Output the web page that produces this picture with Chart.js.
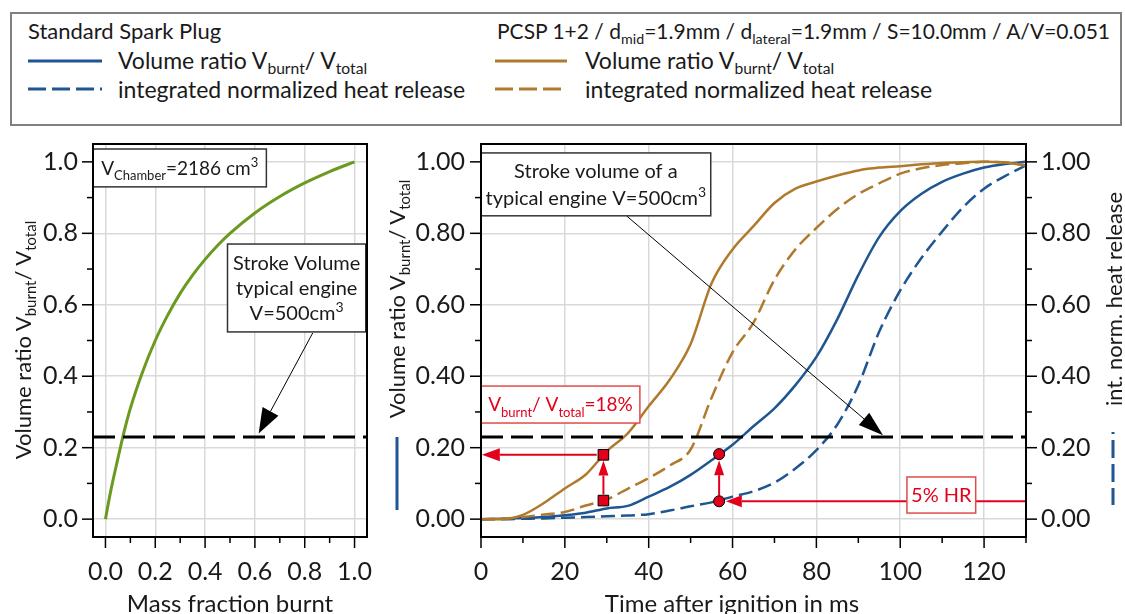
<!DOCTYPE html>
<html>
<head>
<meta charset="utf-8">
<script src="https://cdn.jsdelivr.net/npm/chart.js@4.4.1/dist/chart.umd.min.js"></script>
<style>
  body { margin:0; width:1125px; height:614px; overflow:hidden; background:#fff; font-family:Lato, sans-serif; color:#1a1a1a; position:relative; }
  .abs { position:absolute; white-space:nowrap; }
  sub { font-size:68%; vertical-align:-0.32em; line-height:0; }
  #legend { position:absolute; left:10px; top:12px; width:1112px; height:114px; box-sizing:border-box; border:2px solid #808080; }
  .lg { font-size:23px; line-height:26px; }
  .ytitle { font-size:22px; line-height:26px; transform:translate(-50%,-50%) rotate(-90deg); }
  .xtitle { font-size:24px; line-height:26px; transform:translateX(-50%); }
</style>
</head>
<body>
<div id="legend"></div>
<div class="abs lg" style="left:28px; top:18px; font-size:22px">Standard Spark Plug</div>
<div class="abs lg" style="left:118px; top:47px">Volume ratio V<sub>burnt</sub>/ V<sub>total</sub></div>
<div class="abs lg" style="left:118px; top:76px">integrated normalized heat release</div>
<div class="abs lg" style="left:497px; top:18px; font-size:21px">PCSP 1+2 / d<sub>mid</sub>=1.9mm / d<sub>lateral</sub>=1.9mm / S=10.0mm / A/V=0.051</div>
<div class="abs lg" style="left:585px; top:47px">Volume ratio V<sub>burnt</sub>/ V<sub>total</sub></div>
<div class="abs lg" style="left:585px; top:76px">integrated normalized heat release</div>

<canvas id="left" class="abs" width="375" height="484" style="left:0; top:130px"></canvas>
<canvas id="right" class="abs" width="750" height="484" style="left:375px; top:130px"></canvas>

<svg class="abs" style="left:0; top:0; pointer-events:none" width="1125" height="614">
  <line x1="28" y1="61" x2="102" y2="61" stroke="#1f5591" stroke-width="3"/>
  <line x1="28" y1="89" x2="102" y2="89" stroke="#1f5591" stroke-width="3" stroke-dasharray="18 6 18 6 18 6 2 6"/>
  <line x1="495" y1="61" x2="567" y2="61" stroke="#b07a2c" stroke-width="3"/>
  <line x1="495" y1="89" x2="567" y2="89" stroke="#b07a2c" stroke-width="3" stroke-dasharray="18 6 18 6 18 6 2 6"/>
  <line x1="397" y1="437" x2="397" y2="510" stroke="#1f5591" stroke-width="3"/>
  <line x1="1113" y1="432" x2="1113" y2="505" stroke="#1f5591" stroke-width="3" stroke-dasharray="2 6 18 6 18 6 17"/>
</svg>

<div class="abs ytitle" style="left:23px; top:340px">Volume ratio V<sub>burnt</sub>/ V<sub>total</sub></div>
<div class="abs ytitle" style="left:397px; top:299px">Volume ratio V<sub>burnt</sub>/ V<sub>total</sub></div>
<div class="abs ytitle" style="left:1114px; top:299px">int. norm. heat release</div>
<div class="abs xtitle" style="left:230px; top:590px">Mass fraction burnt</div>
<div class="abs xtitle" style="left:732px; top:590px">Time after ignition in ms</div>

<script>
// left chart: volume ratio vs mass fraction burnt
const massFraction = [0, 0.02, 0.05, 0.075, 0.1, 0.15, 0.2, 0.25, 0.3, 0.35, 0.4, 0.45, 0.5, 0.6, 0.7, 0.8, 0.9, 1.0];
const volRatioChamber = [0, 0.075, 0.17, 0.245, 0.31, 0.414, 0.5, 0.571, 0.632, 0.683, 0.727, 0.766, 0.8, 0.857, 0.903, 0.941, 0.973, 1.0];
const strokeRatio = 0.23;

// right chart: time after ignition
const timeMs = [0, 5, 10, 15, 20, 25, 30, 35, 40, 45, 50, 55, 60, 65, 70, 75, 80, 85, 90, 95, 100, 105, 110, 115, 120, 125, 130];
const stdVol  = [0, 0.001, 0.003, 0.006, 0.011, 0.018, 0.03, 0.037, 0.063, 0.09, 0.124, 0.165, 0.208, 0.26, 0.31, 0.375, 0.454, 0.56, 0.683, 0.79, 0.862, 0.91, 0.944, 0.967, 0.984, 0.994, 1.0];
const stdHr   = [0, 0, 0.001, 0.002, 0.004, 0.006, 0.008, 0.01, 0.014, 0.024, 0.036, 0.047, 0.063, 0.078, 0.102, 0.142, 0.193, 0.265, 0.375, 0.525, 0.64, 0.73, 0.805, 0.873, 0.925, 0.96, 0.99];
const pcspVol = [0, 0, 0.012, 0.045, 0.086, 0.125, 0.19, 0.24, 0.316, 0.39, 0.49, 0.66, 0.755, 0.82, 0.885, 0.925, 0.945, 0.962, 0.976, 0.984, 0.988, 0.993, 0.997, 0.999, 1.0, 0.998, 0.99];
const pcspHr  = [0, 0.002, 0.006, 0.013, 0.02, 0.038, 0.055, 0.085, 0.115, 0.15, 0.195, 0.34, 0.467, 0.55, 0.67, 0.755, 0.815, 0.868, 0.91, 0.94, 0.967, 0.982, 0.991, 0.996, 1.0, 0.999, 0.99];

// marked points (time, values)
const pcspMarkT = 29.2;
const pcspMarkY = [0.18, 0.052];
const stdMarkT = 56.8;
const stdMarkY = [0.182, 0.05];

// ticks
const ratioTicks = [0, 0.1, 0.2, 0.3, 0.4, 0.5, 0.6, 0.7, 0.8, 0.9, 1.0];
const ratioLabels1 = ['0.0', '', '0.2', '', '0.4', '', '0.6', '', '0.8', '', '1.0'];
const ratioLabels2 = ['0.00', '', '0.20', '', '0.40', '', '0.60', '', '0.80', '', '1.00'];
const timeTicks = [0, 10, 20, 30, 40, 50, 60, 70, 80, 90, 100, 110, 120, 130];
const timeLabels = ['0', '', '20', '', '40', '', '60', '', '80', '', '100', '', '120', ''];

const BLUE = '#1f5591', ORANGE = '#b07a2c', GREEN = '#6a9a1f', RED = '#e2001a';

Chart.defaults.font.family = 'Lato';
Chart.defaults.font.size = 25;
Chart.defaults.color = '#1a1a1a';

function pts(xs, ys) { return xs.map((x, i) => ({ x, y: ys[i] })); }

// fixed size axis, no automatic label padding
function fixSize(prop, v) {
  return s => {
    s[prop] = v;
    s.paddingTop = s.paddingBottom = s.paddingLeft = s.paddingRight = 0;
  };
}

function axis(min, max, values, labels, pad, extra) {
  return Object.assign({
    type: 'linear', min, max,
    afterBuildTicks: s => { s.ticks = values.map(v => ({ value: v })); },
    ticks: { autoSkip: false, maxRotation: 0, padding: pad, font: { size: 25 }, callback: (v, i) => labels[i] },
    grid: { drawTicks: false, lineWidth: 1.5, color: c => labels[c.index] ? '#d9d9d9' : 'rgba(0,0,0,0)' },
    border: { display: false }
  }, extra);
}

function drawRich(ctx, parts, x, y, size) {
  const small = Math.round(size * 0.68);
  ctx.textAlign = 'left';
  ctx.textBaseline = 'alphabetic';
  let cx = x;
  parts.forEach(([t, k]) => {
    ctx.font = (k ? small : size) + 'px Lato';
    const dy = k === 'sub' ? size * 0.3 : k === 'sup' ? -size * 0.4 : 0;
    ctx.fillText(t, cx, y + dy);
    cx += ctx.measureText(t).width;
  });
  return cx - x;
}

function richWidth(ctx, parts, size) {
  const small = Math.round(size * 0.68);
  return parts.reduce((w, [t, k]) => {
    ctx.font = (k ? small : size) + 'px Lato';
    return w + ctx.measureText(t).width;
  }, 0);
}

function arrow(ctx, x1, y1, x2, y2, o) {
  const a = Math.atan2(y2 - y1, x2 - x1);
  const bx = x2 - o.head * Math.cos(a), by = y2 - o.head * Math.sin(a);
  ctx.strokeStyle = o.color; ctx.lineWidth = o.width;
  ctx.beginPath(); ctx.moveTo(x1, y1); ctx.lineTo(bx, by); ctx.stroke();
  ctx.fillStyle = o.color;
  ctx.beginPath();
  ctx.moveTo(x2, y2);
  ctx.lineTo(bx + o.half * Math.sin(a), by - o.half * Math.cos(a));
  ctx.lineTo(bx - o.half * Math.sin(a), by + o.half * Math.cos(a));
  ctx.closePath(); ctx.fill();
}

// tick marks (major long, minor short) and full plot frame
const frame = {
  id: 'frame',
  afterDraw(chart) {
    const ctx = chart.ctx, a = chart.chartArea;
    ctx.save();
    ctx.strokeStyle = '#000'; ctx.lineWidth = 1.5;
    Object.values(chart.scales).forEach(s => {
      s.ticks.forEach(t => {
        const len = t.label ? 11 : 6;
        const p = s.getPixelForValue(t.value);
        ctx.beginPath();
        if (s.axis === 'x') { ctx.moveTo(p, a.bottom); ctx.lineTo(p, a.bottom + len); }
        else if (s.position === 'left') { ctx.moveTo(a.left, p); ctx.lineTo(a.left - len, p); }
        else { ctx.moveTo(a.right, p); ctx.lineTo(a.right + len, p); }
        ctx.stroke();
      });
    });
    ctx.lineWidth = 2;
    ctx.strokeRect(a.left, a.top, a.right - a.left, a.bottom - a.top);
    ctx.restore();
  }
};

function notes(boxes, arrowsBelow, arrowsAbove) {
  const conv = (chart, x, y) => [chart.scales.x.getPixelForValue(x), chart.scales.y.getPixelForValue(y)];
  const drawArrows = (chart, list) => list.forEach(ar => {
    const [x1, y1] = conv(chart, ar.from[0], ar.from[1]);
    const [x2, y2] = conv(chart, ar.to[0], ar.to[1]);
    arrow(chart.ctx, x1, y1, x2, y2, ar);
  });
  return {
    id: 'notes',
    beforeDatasetsDraw(chart) {
      chart.ctx.save(); drawArrows(chart, arrowsBelow); chart.ctx.restore();
    },
    afterDatasetsDraw(chart) {
      const ctx = chart.ctx;
      ctx.save();
      drawArrows(chart, arrowsAbove);
      boxes.forEach(b => {
        const [l, t] = conv(chart, b.x0, b.y0);
        const [r, bt] = conv(chart, b.x1, b.y1);
        ctx.fillStyle = '#fff';
        ctx.fillRect(l, t, r - l, bt - t);
        ctx.strokeStyle = b.border; ctx.lineWidth = 1.5;
        ctx.strokeRect(l, t, r - l, bt - t);
        ctx.fillStyle = b.color;
        const cy = (t + bt) / 2, cx = (l + r) / 2, n = b.lines.length;
        b.lines.forEach((parts, i) => {
          const x = cx - richWidth(ctx, parts, b.size) / 2;
          drawRich(ctx, parts, x, cy + (i - (n - 1) / 2) * b.lh + b.size * 0.36, b.size);
        });
      });
      ctx.restore();
    }
  };
}

const lineOpts = { showLine: true, pointRadius: 0, cubicInterpolationMode: 'monotone' };

// ---------- left chart ----------
new Chart(document.getElementById('left'), {
  type: 'scatter',
  data: {
    datasets: [
      Object.assign({ data: [{ x: -0.05, y: strokeRatio }, { x: 1.05, y: strokeRatio }], borderColor: '#000', borderWidth: 3, borderDash: [22, 8], order: 1 }, lineOpts),
      Object.assign({ data: pts(massFraction, volRatioChamber), borderColor: GREEN, borderWidth: 3, order: 2 }, lineOpts)
    ]
  },
  options: {
    responsive: false, animation: false, devicePixelRatio: 1,
    layout: { padding: { left: 0, top: 14, right: 8, bottom: 0 } },
    plugins: { legend: { display: false }, tooltip: { enabled: false } },
    scales: {
      x: axis(-0.05, 1.05, ratioTicks, ratioLabels1, 20, { afterFit: fixSize('height', 77) }),
      y: axis(-0.05, 1.05, ratioTicks, ratioLabels1, 15, { afterFit: fixSize('width', 93) })
    }
  },
  plugins: [frame, notes([
    { x0: -0.05, x1: 0.646, y0: 1.036, y1: 0.93, border: '#333', color: '#1a1a1a', size: 19, lh: 25,
      lines: [[['V', ''], ['Chamber', 'sub'], ['=2186 cm', ''], ['3', 'sup']]] },
    { x0: 0.49, x1: 1.045, y0: 0.77, y1: 0.524, border: '#333', color: '#1a1a1a', size: 20, lh: 25,
      lines: [[['Stroke Volume', '']], [['typical engine', '']], [['V=500cm', ''], ['3', 'sup']]] }
  ], [], [
    { from: [0.832, 0.521], to: [0.615, 0.24], color: '#000', width: 1, head: 25, half: 9 }
  ])]
});

// ---------- right chart ----------
new Chart(document.getElementById('right'), {
  type: 'scatter',
  data: {
    datasets: [
      { data: [{ x: pcspMarkT, y: pcspMarkY[0] }, { x: pcspMarkT, y: pcspMarkY[1] }], pointStyle: 'rect', pointRadius: 7.5,
        backgroundColor: RED, borderColor: '#000', borderWidth: 1, order: 0 },
      { data: [{ x: stdMarkT, y: stdMarkY[0] }, { x: stdMarkT, y: stdMarkY[1] }], pointStyle: 'circle', pointRadius: 5.5,
        backgroundColor: RED, borderColor: '#000', borderWidth: 1, order: 0 },
      Object.assign({ data: [{ x: 0, y: strokeRatio }, { x: 130, y: strokeRatio }], borderColor: '#000', borderWidth: 3, borderDash: [22, 8], order: 1 }, lineOpts),
      Object.assign({ data: pts(timeMs, pcspVol), borderColor: ORANGE, borderWidth: 2.5, order: 2 }, lineOpts),
      Object.assign({ data: pts(timeMs, pcspHr), borderColor: ORANGE, borderWidth: 2.5, borderDash: [14, 6], order: 2 }, lineOpts),
      Object.assign({ data: pts(timeMs, stdVol), borderColor: BLUE, borderWidth: 2.5, order: 2 }, lineOpts),
      Object.assign({ data: pts(timeMs, stdHr), borderColor: BLUE, borderWidth: 2.5, borderDash: [14, 6], order: 2 }, lineOpts)
    ]
  },
  options: {
    responsive: false, animation: false, devicePixelRatio: 1,
    layout: { padding: { left: 0, top: 14, right: 0, bottom: 0 } },
    plugins: { legend: { display: false }, tooltip: { enabled: false } },
    scales: {
      x: axis(0, 130, timeTicks, timeLabels, 20, { afterFit: fixSize('height', 77) }),
      y: axis(-0.05, 1.05, ratioTicks, ratioLabels2, 16, { position: 'left', afterFit: fixSize('width', 106) }),
      y2: axis(-0.05, 1.05, ratioTicks, ratioLabels2, 15, { position: 'right', grid: { display: false, drawTicks: false }, afterFit: fixSize('width', 99) })
    }
  },
  plugins: [frame, notes([
    { x0: 0, x1: 54.8, y0: 1.025, y1: 0.849, border: '#333', color: '#1a1a1a', size: 20, lh: 27,
      lines: [[['Stroke volume of a', '']], [['typical engine V=500cm', ''], ['3', 'sup']]] },
    { x0: 0, x1: 37.9, y0: 0.3725, y1: 0.269, border: '#e34a4a', color: RED, size: 19, lh: 26,
      lines: [[['V', ''], ['burnt', 'sub'], ['/ V', ''], ['total', 'sub'], ['=18%', '']]] },
    { x0: 101.6, x1: 118, y0: 0.118, y1: 0.017, border: '#e34a4a', color: RED, size: 20, lh: 26,
      lines: [[['5% HR', '']]] }
  ], [
    { from: [pcspMarkT - 1.6, pcspMarkY[0]], to: [0.2, pcspMarkY[0]], color: RED, width: 2, head: 18, half: 6.5 },
    { from: [pcspMarkT, 0.069], to: [pcspMarkT, 0.164], color: RED, width: 2, head: 15, half: 5 },
    { from: [stdMarkT, 0.066], to: [stdMarkT, 0.165], color: RED, width: 2, head: 15, half: 5 },
    { from: [130, stdMarkY[1]], to: [58.4, stdMarkY[1]], color: RED, width: 2, head: 16, half: 6 }
  ], [
    { from: [34.7, 0.849], to: [95.9, 0.235], color: '#000', width: 1, head: 25, half: 8 }
  ])]
});
</script>
</body>
</html>
